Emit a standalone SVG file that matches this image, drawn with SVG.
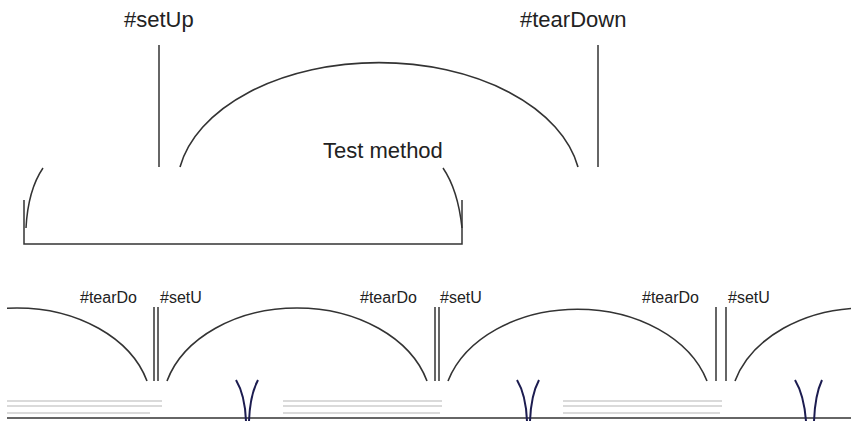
<svg xmlns="http://www.w3.org/2000/svg" width="851" height="421" viewBox="0 0 851 421">
<style>
text{font-family:"Liberation Sans",Arial,sans-serif;fill:#222}
.big{font-size:22px}
.small{font-size:16px}
.ln{stroke:#333;stroke-width:1.5;fill:none}
.arc{stroke:#333;stroke-width:1.6;fill:none}
.grey{stroke:#b5b5b5;stroke-width:1.2;fill:none}
.v{stroke:#1c1c50;stroke-width:2;fill:none}
</style>
<defs>
<clipPath id="clipL"><rect x="7" y="0" width="844" height="421"/></clipPath>
</defs>
<rect width="851" height="421" fill="#fff"/>

<g id="top-setup">
<text class="big" x="124" y="27">#setUp</text>
<line class="ln" x1="159" y1="45" x2="159" y2="167"/>
</g>
<g id="top-teardown">
<text class="big" x="520" y="27">#tearDown</text>
<line class="ln" x1="598" y1="45" x2="598" y2="167"/>
</g>
<g id="top-test-method">
<text class="big" x="323" y="158">Test method</text>
</g>
<g id="top-bracket">
<path class="ln" d="M43,168 Q28,190 26,228"/>
<path class="ln" d="M443,168 Q458,190 462,228"/>
<polyline class="ln" points="24,200 24,244 462,244 462,200"/>
</g>

<g id="bottom-unit-1">
<text class="small" x="80" y="303">#tearDo</text>
<text class="small" x="160" y="303">#setU</text>
<line class="ln" x1="154" y1="307" x2="154" y2="381"/>
<line class="ln" x1="158" y1="307" x2="158" y2="381"/>
</g>
<g id="bottom-unit-2">
<text class="small" x="360" y="303">#tearDo</text>
<text class="small" x="440" y="303">#setU</text>
<line class="ln" x1="435" y1="307" x2="435" y2="381"/>
<line class="ln" x1="439" y1="307" x2="439" y2="381"/>
</g>
<g id="bottom-unit-3">
<text class="small" x="642" y="303">#tearDo</text>
<text class="small" x="728" y="303">#setU</text>
<line class="ln" x1="716" y1="307" x2="716" y2="381"/>
<line class="ln" x1="726" y1="307" x2="726" y2="381"/>
</g>

<g id="connectors">
<path class="arc" d="M180,167 A202 126 0 0 1 578,167"/>
<g clip-path="url(#clipL)">
<path class="arc" d="M-113,381 A135 100 0 0 1 147,381"/>
</g>
<path class="arc" d="M167,381 A135 100 0 0 1 427,381"/>
<path class="arc" d="M448,381 A135 100 0 0 1 707,381"/>
<path class="arc" d="M735,381 A135 100 0 0 1 995,381"/>
</g>

<g id="bottom-lines">
<line class="grey" x1="7" y1="401" x2="162" y2="401"/>
<line class="grey" x1="7" y1="406" x2="162" y2="406"/>
<line class="grey" x1="7" y1="413" x2="150" y2="413"/>
<line class="grey" x1="283" y1="401" x2="442" y2="401"/>
<line class="grey" x1="283" y1="406" x2="442" y2="406"/>
<line class="grey" x1="283" y1="413" x2="440" y2="413"/>
<line class="grey" x1="563" y1="401" x2="722" y2="401"/>
<line class="grey" x1="563" y1="406" x2="722" y2="406"/>
<line class="grey" x1="563" y1="413" x2="720" y2="413"/>
<line class="ln" x1="7" y1="418" x2="851" y2="418"/>
</g>

<g id="bottom-brackets">
<path class="v" d="M236,380 Q245,395 246,421"/>
<path class="v" d="M258,380 Q250,395 249,421"/>
<path class="v" d="M517,380 Q526,395 527,421"/>
<path class="v" d="M539,380 Q531,395 530,421"/>
<path class="v" d="M795,380 Q804,395 806,421"/>
<path class="v" d="M822,380 Q815,395 814,421"/>
</g>
</svg>
